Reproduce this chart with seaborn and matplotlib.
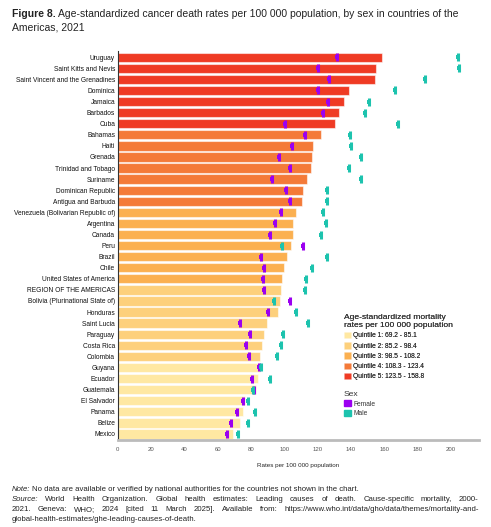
import numpy as np
import pandas as pd
import matplotlib
matplotlib.use("Agg")
import matplotlib.pyplot as plt
import matplotlib.patches as mpatches
import seaborn as sns

# ---- data ----
countries = [
    "Uruguay", "Saint Kitts and Nevis", "Saint Vincent and the Grenadines", "Dominica",
    "Jamaica", "Barbados", "Cuba", "Bahamas", "Haiti", "Grenada", "Trinidad and Tobago",
    "Suriname", "Dominican Republic", "Antigua and Barbuda",
    "Venezuela (Bolivarian Republic of)", "Argentina", "Canada", "Peru", "Brazil", "Chile",
    "United States of America", "REGION OF THE AMERICAS", "Bolivia (Plurinational State of)",
    "Honduras", "Saint Lucia", "Paraguay", "Costa Rica", "Colombia", "Guyana", "Ecuador",
    "Guatemala", "El Salvador", "Panama", "Belize", "Mexico",
]
total = [158.8, 155.2, 154.2, 139.0, 136.1, 133.1, 130.7, 121.7, 117.3, 116.3, 115.7,
         113.7, 111.2, 110.6, 107.0, 105.2, 105.2, 104.2, 101.6, 99.8,
         98.6, 98.0, 97.6, 96.2, 89.6, 87.5, 86.5, 85.5, 85.1, 84.2,
         82.9, 76.3, 75.4, 73.5, 69.2]
female = [131.7, 119.9, 126.9, 119.9, 126.3, 123.3, 100.4, 112.4, 104.6, 97.0, 103.4,
          92.8, 101.2, 103.4, 97.9, 94.6, 91.6, 111.2, 85.9, 87.7,
          87.1, 87.7, 103.4, 90.2, 73.3, 79.5, 77.1, 78.9, 84.5, 80.7,
          81.5, 75.3, 71.4, 67.9, 65.7]
male = [204.2, 205.0, 184.3, 166.3, 150.6, 148.2, 168.3, 139.2, 139.9, 145.8, 138.7,
        146.0, 125.5, 125.5, 123.1, 124.9, 121.9, 98.4, 125.5, 116.3,
        112.8, 112.2, 93.6, 106.8, 114.0, 99.0, 97.8, 95.4, 86.1, 91.2,
        81.1, 78.3, 82.1, 78.4, 72.3]

quintile_labels = ["Quintile 1: 69.2 - 85.1", "Quintile 2: 85.2 - 98.4",
                   "Quintile 3: 98.5 - 108.2", "Quintile 4: 108.3 - 123.4",
                   "Quintile 5: 123.5 - 158.8"]
quintile_edges = [69.15, 85.15, 98.45, 108.25, 123.45, 158.85]
quintile_colors = ["#FFE8A2", "#FDD07C", "#FBB050", "#F47A38", "#EF3B24"]
female_color = "#9B00F0"
male_color = "#1DC3AE"

df = pd.DataFrame({"country": countries, "total": total, "female": female, "male": male})
df["quintile"] = pd.cut(df["total"], bins=quintile_edges, labels=quintile_labels)

# ---- figure ----
sns.set_style("white")
plt.rcParams["font.family"] = ["Liberation Sans", "DejaVu Sans"]
fig = plt.figure(figsize=(4.91, 5.27), dpi=100)
ax = fig.add_axes([0.240, 0.165, 0.736, 0.738])

sns.barplot(data=df, y="country", x="total", hue="quintile", hue_order=quintile_labels,
            palette=dict(zip(quintile_labels, quintile_colors)), dodge=False,
            width=0.84, edgecolor=(1, 1, 1, 0.55), linewidth=0.8, legend=False,
            saturation=1, ax=ax)

pos = np.arange(len(df))
for col, c in [("female", female_color), ("male", male_color)]:
    ax.scatter(df[col], pos, marker="|", s=30, linewidths=2.2, color=c, zorder=4)
    ax.scatter(df[col], pos, marker="s", s=7, color=c, linewidths=0, zorder=5)

ax.set_xlim(0, 217)
ax.set_ylim(len(df) - 0.45, -0.55)
ax.set_xticks(np.arange(0, 201, 20))
ax.set_xlabel("Rates per 100 000 population", fontsize=4.5, labelpad=8)
ax.set_ylabel("")
ax.tick_params(axis="x", labelsize=4.3, colors="#555555", length=2, width=0.5, pad=3)
ax.tick_params(axis="y", length=0, pad=2)
for lab in ax.get_yticklabels():
    lab.set_fontsize(4.75)
    lab.set_color("#111111")
for s in ["top", "right"]:
    ax.spines[s].set_visible(False)
ax.spines["left"].set_color("#333333")
ax.spines["left"].set_linewidth(0.8)
ax.spines["bottom"].set_color("#BBBBBB")
ax.spines["bottom"].set_linewidth(2)

# legends
leg_kw = dict(loc="upper left", frameon=False, fontsize=4.8, title_fontsize=6.1,
              alignment="left", handlelength=1.1, handleheight=1.1,
              handletextpad=0.3, borderpad=0, borderaxespad=0, labelcolor="#333333")
q_handles = [mpatches.Patch(facecolor=c, edgecolor=(1, 1, 1, 0.4), linewidth=0.5, label=l)
             for c, l in zip(quintile_colors, quintile_labels)]
leg1 = fig.legend(handles=q_handles,
                  title="Age-standardized mortality\nrates per 100 000 population",
                  bbox_to_anchor=(0.700, 0.404), labelspacing=0.42, **leg_kw)
leg1.get_title().set_color("#333333")
s_handles = [mpatches.Patch(color=female_color, label="Female"),
             mpatches.Patch(color=male_color, label="Male")]
leg2 = fig.legend(handles=s_handles, title="Sex", bbox_to_anchor=(0.700, 0.258),
                  labelspacing=0.3, **leg_kw)
leg2.get_title().set_color("#333333")
fig.add_artist(leg1)

# title and notes
fig.canvas.draw()
renderer = fig.canvas.get_renderer()
inv = fig.transFigure.inverted()

def run_text(x, y, parts, size, gap=0.004):
    # place pieces of text one after another on a line
    for txt, style, weight in parts:
        t = fig.text(x, y, txt, fontsize=size, fontstyle=style, fontweight=weight,
                     va="baseline", ha="left", color="#222222")
        bb = t.get_window_extent(renderer)
        x = inv.transform((bb.x1, bb.y0))[0] + gap

def justify_text(x0, x1, y, parts, size):
    # spread words over the full line width
    words = []
    for txt, style in parts:
        words += [(w, style) for w in txt.split(" ")]
    arts, widths = [], []
    for w, style in words:
        t = fig.text(0, y, w, fontsize=size, fontstyle=style, va="baseline",
                     ha="left", color="#222222")
        bb = t.get_window_extent(renderer)
        arts.append(t)
        widths.append(inv.transform((bb.x1, 0))[0] - inv.transform((bb.x0, 0))[0])
    gap = (x1 - x0 - sum(widths)) / (len(words) - 1)
    x = x0
    for t, w in zip(arts, widths):
        t.set_x(x)
        x += w + gap

run_text(0.024, 0.968, [("Figure 8.", "normal", "bold"),
                        ("Age-standardized cancer death rates per 100 000 population, by sex in countries of the",
                         "normal", "normal")], 7.5, gap=0.006)
run_text(0.024, 0.943, [("Americas, 2021", "normal", "normal")], 7.5)

run_text(0.024, 0.068, [("Note:", "italic", "normal"),
                        ("No data are available or verified by national authorities for the countries not shown in the chart.",
                         "normal", "normal")], 5.6)
justify_text(0.024, 0.975, 0.049, [("Source:", "italic"),
              ("World Health Organization. Global health estimates: Leading causes of death. Cause-specific mortality, 2000-",
               "normal")], 5.6)
justify_text(0.024, 0.975, 0.030, [("2021. Geneva: WHO; 2024 [cited 11 March 2025]. Available from: https://www.who.int/data/gho/data/themes/mortality-and-",
               "normal")], 5.6)
run_text(0.024, 0.011, [("global-health-estimates/ghe-leading-causes-of-death.", "normal", "normal")], 5.6)

fig.savefig("out.png", dpi=100)
